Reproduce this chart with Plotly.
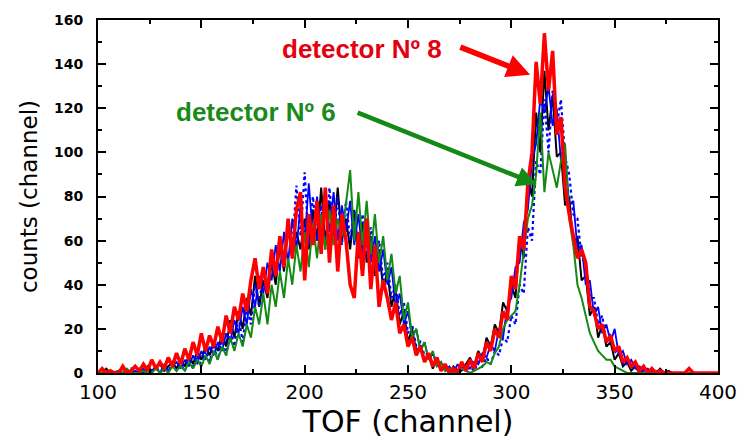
import plotly.graph_objects as go

# TOF channel grid (every second channel)
channels = list(range(100, 401, 2))

counts_black = [
    0, 0, 2, 0, 0, 1, 0, 0, 1, 0,
    1, 0, 3, 1, 2, 4, 1, 3, 5, 2,
    6, 3, 8, 4, 10, 6, 12, 8, 14, 10,
    18, 12, 24, 16, 28, 20, 34, 26, 44, 30,
    42, 34, 50, 40, 58, 46, 66, 52, 64, 56,
    70, 56, 74, 60, 84, 58, 78, 62, 84, 60,
    70, 56, 74, 52, 68, 50, 62, 44, 56, 38,
    46, 30, 38, 22, 28, 14, 20, 10, 12, 6,
    8, 2, 6, 1, 4, 0, 3, 1, 2, 4,
    7, 3, 10, 6, 16, 12, 22, 18, 32, 28,
    40, 34, 62, 52, 88, 80, 118, 100, 137, 110,
    126, 98, 100, 76, 80, 58, 62, 42, 44, 26,
    30, 16, 22, 12, 14, 6, 9, 3, 5, 1,
    3, 0, 2, 0, 1, 0, 2, 0, 1, 0,
    0, 0, 0, 0, 0, 0, 0, 0, 0, 0,
    0,
]

counts_blue = [
    0, 0, 0, 1, 0, 0, 2, 0, 0, 1,
    0, 2, 0, 1, 3, 0, 4, 1, 3, 5,
    2, 6, 3, 8, 4, 10, 6, 12, 8, 14,
    10, 18, 14, 24, 18, 30, 22, 38, 30, 44,
    36, 50, 42, 58, 46, 64, 50, 70, 56, 76,
    60, 86, 62, 80, 58, 78, 64, 82, 60, 76,
    64, 78, 58, 72, 54, 70, 50, 62, 46, 56,
    40, 48, 30, 36, 22, 28, 16, 20, 10, 14,
    6, 9, 3, 5, 1, 3, 0, 4, 1, 3,
    2, 5, 4, 9, 7, 13, 10, 20, 16, 30,
    34, 48, 50, 68, 74, 96, 104, 124, 118, 130,
    112, 120, 96, 100, 76, 78, 56, 58, 40, 42,
    26, 30, 18, 22, 14, 20, 8, 10, 4, 6,
    2, 3, 1, 2, 0, 1, 0, 0, 0, 0,
    0, 0, 0, 0, 0, 0, 0, 0, 0, 0,
    0,
]

counts_blue_dot = [
    0, 0, 0, 0, 1, 0, 0, 0, 2, 0,
    0, 0, 2, 0, 3, 0, 2, 1, 4, 1,
    4, 1, 6, 2, 8, 3, 10, 5, 12, 6,
    16, 8, 20, 12, 26, 14, 30, 22, 40, 30,
    48, 36, 54, 44, 62, 50, 68, 56, 85, 62,
    91, 58, 80, 60, 76, 56, 84, 62, 80, 58,
    78, 60, 74, 54, 72, 52, 66, 48, 60, 42,
    50, 34, 40, 26, 32, 18, 22, 12, 14, 8,
    9, 4, 6, 2, 3, 0, 2, 0, 3, 1,
    3, 1, 5, 3, 7, 4, 10, 8, 16, 14,
    26, 22, 40, 36, 66, 60, 96, 90, 124, 100,
    128, 112, 124, 98, 90, 72, 70, 52, 50, 34,
    34, 22, 26, 14, 18, 9, 12, 4, 6, 2,
    3, 1, 1, 0, 0, 0, 0, 0, 0, 0,
    0, 0, 0, 0, 0, 0, 0, 0, 0, 0,
    0,
]

counts_green = [
    0, 0, 1, 0, 0, 0, 0, 2, 0, 0,
    0, 1, 0, 0, 2, 0, 2, 0, 3, 1,
    3, 1, 5, 2, 6, 3, 8, 4, 10, 6,
    12, 8, 16, 10, 18, 12, 22, 16, 30, 22,
    36, 22, 40, 30, 46, 34, 52, 40, 58, 46,
    64, 48, 68, 52, 72, 56, 74, 58, 70, 62,
    76, 92, 60, 82, 58, 78, 54, 72, 50, 62,
    42, 54, 36, 44, 24, 32, 16, 20, 10, 14,
    6, 10, 3, 5, 1, 2, 0, 0, 2, 1,
    0, 1, 2, 3, 5, 4, 9, 12, 20, 24,
    26, 28, 40, 56, 70, 76, 90, 118, 82, 100,
    92, 84, 96, 104, 70, 58, 40, 34, 26, 18,
    14, 10, 8, 6, 6, 3, 2, 1, 0, 0,
    0, 0, 0, 0, 0, 0, 0, 0, 0, 0,
    0, 0, 0, 0, 0, 0, 0, 0, 0, 0,
    0,
]

counts_red = [
    0, 2, 0, 1, 0, 0, 3, 0, 1, 3,
    1, 4, 1, 6, 2, 5, 2, 7, 3, 9,
    4, 11, 6, 14, 8, 18, 10, 17, 12, 21,
    14, 26, 18, 30, 24, 36, 28, 42, 52, 38,
    48, 36, 56, 44, 62, 48, 70, 52, 74, 82,
    42, 72, 58, 78, 54, 84, 50, 76, 46, 72,
    60, 40, 34, 64, 44, 70, 38, 58, 30, 42,
    34, 24, 32, 18, 22, 12, 16, 8, 12, 5,
    9, 3, 7, 1, 4, 0, 2, 0, 5, 1,
    6, 2, 9, 5, 14, 10, 20, 16, 28, 24,
    44, 38, 62, 56, 86, 100, 141, 122, 154, 128,
    146, 108, 116, 84, 72, 62, 52, 56, 50, 30,
    28, 20, 22, 14, 17, 10, 12, 5, 7, 3,
    5, 1, 3, 0, 2, 0, 1, 0, 0, 0,
    0, 0, 0, 2, 0, 0, 0, 0, 0, 0,
    0,
]

x_ticks = [100, 150, 200, 250, 300, 350, 400]
y_ticks = [0, 20, 40, 60, 80, 100, 120, 140, 160]

series = [
    (counts_black, dict(color="#000000", width=2)),
    (counts_blue_dot, dict(color="#0000ff", width=2.2, dash="dot")),
    (counts_blue, dict(color="#0000ff", width=1.8)),
    (counts_green, dict(color="#138a13", width=2)),
    (counts_red, dict(color="#ff0000", width=3.5)),
]

fig = go.Figure()
for values, line in series:
    fig.add_trace(go.Scatter(x=channels, y=values, mode="lines", line=line,
                             showlegend=False, hoverinfo="skip"))

label_font = dict(family="Liberation Sans, Arial, sans-serif", size=26, weight="bold")

# labels for the two detectors
fig.add_annotation(x=227.8, y=146.7, xref="x", yref="y", text="detector Nº 8",
                   showarrow=False, font=dict(label_font, color="#e3000f"))
fig.add_annotation(x=176.6, y=118.3, xref="x", yref="y", text="detector Nº 6",
                   showarrow=False, font=dict(label_font, color="#1a8a1a"))

# arrows pointing at the peaks
fig.add_annotation(x=309.1, y=135.2, ax=274.6, ay=148.0, xref="x", yref="y",
                   axref="x", ayref="y", text="", showarrow=True,
                   arrowhead=2, arrowsize=0.85, arrowwidth=5.5, arrowcolor="#ff0000")
fig.add_annotation(x=312.4, y=85.5, ax=224.9, ay=118.3, xref="x", yref="y",
                   axref="x", ayref="y", text="", showarrow=True,
                   arrowhead=2, arrowsize=0.9, arrowwidth=4.5, arrowcolor="#138a13")

axis_common = dict(showgrid=False, zeroline=False, showline=True, linecolor="black",
                   linewidth=2, mirror="allticks", ticks="inside", tickcolor="black",
                   tickwidth=2)

fig.update_xaxes(range=[100, 400], tickvals=x_ticks, ticklen=8,
                 minor=dict(dtick=25, tick0=100, ticks="inside", ticklen=4,
                            tickwidth=2, tickcolor="black"),
                 tickfont=dict(family="DejaVu Sans", size=20, color="black"),
                 title=dict(text="TOF (channel)", standoff=4,
                            font=dict(family="DejaVu Sans", size=30, color="black")),
                 **axis_common)
fig.update_yaxes(range=[0, 160], tickvals=y_ticks, ticklen=8, ticklabelstandoff=10,
                 minor=dict(dtick=10, tick0=0, ticks="inside", ticklen=4,
                            tickwidth=2, tickcolor="black"),
                 tickfont=dict(family="DejaVu Sans", size=14, color="black", weight="bold"),
                 title=dict(text="counts (channel)", standoff=10,
                            font=dict(family="DejaVu Sans", size=23, color="black")),
                 **axis_common)

fig.update_layout(width=749, height=441, margin=dict(l=98, r=24, t=12, b=68),
                  plot_bgcolor="white", paper_bgcolor="white")

fig.write_html("out.html")
